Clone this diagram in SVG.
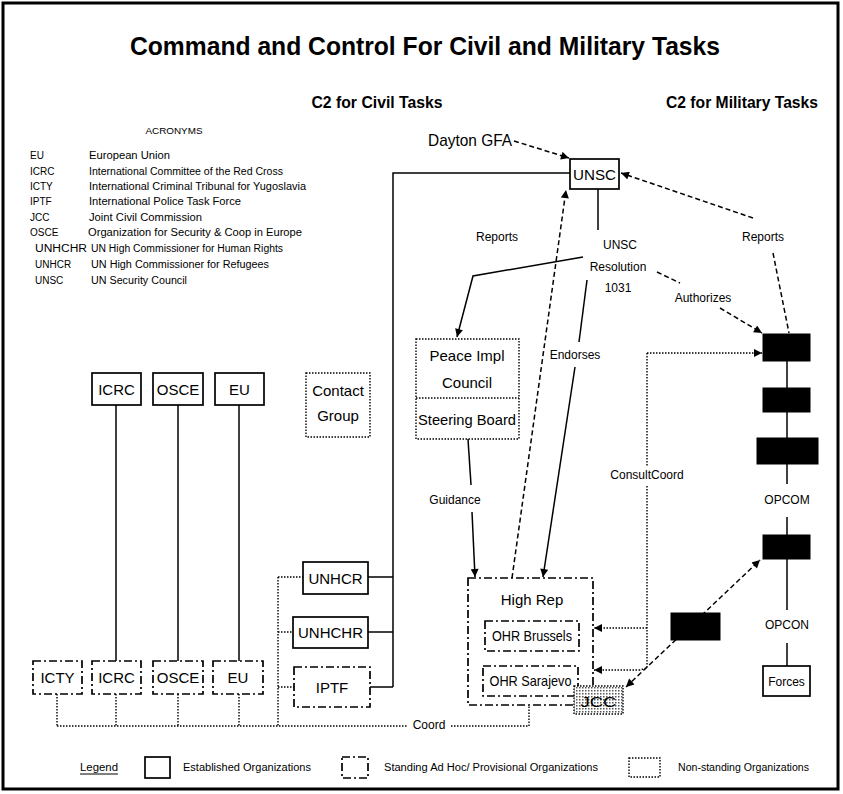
<svg xmlns="http://www.w3.org/2000/svg" width="843" height="794" viewBox="0 0 843 794">
<defs>
<style>
text{font-family:"Liberation Sans",Arial,sans-serif;fill:#000}
.t{font-size:15px;text-anchor:middle}
.s{font-size:12px;text-anchor:middle}
.a{font-size:10px}
.solid{fill:#fff;stroke:#000;stroke-width:1.7}
.dd{fill:#fff;stroke:#000;stroke-width:1.7;stroke-dasharray:8 3 2 3}
.dot{fill:#fff;stroke:#000;stroke-width:1.4;stroke-dasharray:1.5 1.5}
.blk{fill:#000;stroke:#000}
.ln{fill:none;stroke:#000;stroke-width:1.5}
.dash{fill:none;stroke:#000;stroke-width:1.5;stroke-dasharray:5 3}
.dl{fill:none;stroke:#000;stroke-width:1.4;stroke-dasharray:1.5 1.5}
</style>
<marker id="ah" viewBox="0 0 10 10" refX="10" refY="5" markerWidth="10" markerHeight="8" markerUnits="userSpaceOnUse" orient="auto-start-reverse">
<path d="M0,0 L10,5 L0,10 z" fill="#000"/>
</marker>
<pattern id="stip" width="3" height="3" patternUnits="userSpaceOnUse">
<rect width="3" height="3" fill="#fff"/>
<rect width="1.5" height="1.5" fill="#555"/>
</pattern>
</defs>
<rect x="0" y="0" width="843" height="794" fill="#fff"/>
<rect x="3" y="3" width="835" height="786" fill="none" stroke="#000" stroke-width="3"/>

<text x="425" y="55" font-size="25" font-weight="bold" text-anchor="middle" textLength="590" lengthAdjust="spacingAndGlyphs">Command and Control For Civil and Military Tasks</text>
<text x="377" y="108" font-size="17" font-weight="bold" text-anchor="middle" textLength="131" lengthAdjust="spacingAndGlyphs">C2 for Civil Tasks</text>
<text x="742" y="108" font-size="17" font-weight="bold" text-anchor="middle" textLength="152" lengthAdjust="spacingAndGlyphs">C2 for Military Tasks</text>

<g id="acronyms">
<text x="174" y="134" font-size="9" text-anchor="middle" textLength="57" lengthAdjust="spacingAndGlyphs">ACRONYMS</text>
<text class="a" x="30" y="159">EU</text><text class="a" x="89" y="159" textLength="81" lengthAdjust="spacingAndGlyphs">European Union</text>
<text class="a" x="30" y="175">ICRC</text><text class="a" x="89" y="175" textLength="194" lengthAdjust="spacingAndGlyphs">International Committee of the Red Cross</text>
<text class="a" x="30" y="190">ICTY</text><text class="a" x="89" y="190" textLength="217" lengthAdjust="spacingAndGlyphs">International Criminal Tribunal for Yugoslavia</text>
<text class="a" x="30" y="205">IPTF</text><text class="a" x="89" y="205" textLength="152" lengthAdjust="spacingAndGlyphs">International Police Task Force</text>
<text class="a" x="30" y="221">JCC</text><text class="a" x="89" y="221" textLength="113" lengthAdjust="spacingAndGlyphs">Joint Civil Commission</text>
<text class="a" x="30" y="236">OSCE</text><text class="a" x="88" y="236" textLength="214" lengthAdjust="spacingAndGlyphs">Organization for Security &amp; Coop in Europe</text>
<text class="a" x="35" y="252" textLength="52" lengthAdjust="spacingAndGlyphs">UNHCHR</text><text class="a" x="91" y="252" textLength="192" lengthAdjust="spacingAndGlyphs">UN High Commissioner for Human Rights</text>
<text class="a" x="35" y="268">UNHCR</text><text class="a" x="91" y="268" textLength="178" lengthAdjust="spacingAndGlyphs">UN High Commissioner for Refugees</text>
<text class="a" x="35" y="284">UNSC</text><text class="a" x="91" y="284" textLength="96" lengthAdjust="spacingAndGlyphs">UN Security Council</text>
</g>

<g id="connectors">
<polyline class="ln" points="570,173 393,173 393,687"/>
<line class="ln" x1="368" y1="577" x2="393" y2="577"/>
<line class="ln" x1="368" y1="632" x2="393" y2="632"/>
<line class="ln" x1="370" y1="687" x2="393" y2="687"/>
<line class="ln" x1="598" y1="189" x2="598" y2="230"/>
<line class="dash" x1="514" y1="141" x2="569" y2="158" marker-end="url(#ah)"/>
<polyline class="ln" points="583,257 473,276 457,337" marker-end="url(#ah)"/>
<line class="dash" x1="657" y1="272" x2="680" y2="283"/>
<line class="dash" x1="720" y1="308" x2="762" y2="333" marker-end="url(#ah)"/>
<line class="dash" x1="753" y1="218" x2="621" y2="173" marker-end="url(#ah)"/>
<line class="dash" x1="773" y1="253" x2="789" y2="333"/>
<line class="dash" x1="512" y1="578" x2="566" y2="190" marker-end="url(#ah)"/>
<line class="ln" x1="587" y1="280" x2="579" y2="342"/>
<line class="ln" x1="575" y1="367" x2="543" y2="577" marker-end="url(#ah)"/>
<line class="ln" x1="468" y1="439" x2="471" y2="485"/>
<line class="ln" x1="472" y1="512" x2="475" y2="577" marker-end="url(#ah)"/>
<line class="dl" x1="647" y1="353" x2="762" y2="353" marker-end="url(#ah)"/>
<line class="dl" x1="647" y1="353" x2="647" y2="466"/>
<polyline class="dl" points="647,486 647,668 640,670"/>
<line class="dl" x1="647" y1="628" x2="594" y2="628" marker-end="url(#ah)"/>
<line class="dl" x1="640" y1="670" x2="594" y2="670" marker-end="url(#ah)"/>
<line class="dash" x1="626" y1="687" x2="760" y2="560" stroke-dasharray="4 3" marker-start="url(#ah)" marker-end="url(#ah)"/>
<line class="ln" x1="787" y1="361" x2="787" y2="484"/>
<line class="ln" x1="787" y1="517" x2="787" y2="535"/>
<line class="ln" x1="787" y1="559" x2="787" y2="610"/>
<line class="ln" x1="787" y1="643" x2="787" y2="666"/>
<line class="ln" x1="116" y1="405" x2="116" y2="661"/>
<line class="ln" x1="178" y1="405" x2="178" y2="661"/>
<line class="ln" x1="239" y1="405" x2="239" y2="661"/>
<line class="dl" x1="57" y1="694" x2="57" y2="726"/>
<line class="dl" x1="116" y1="694" x2="116" y2="726"/>
<line class="dl" x1="178" y1="694" x2="178" y2="726"/>
<line class="dl" x1="239" y1="694" x2="239" y2="726"/>
<line class="dl" x1="57" y1="726" x2="408" y2="726"/>
<polyline class="dl" points="451,726 529,726 529,705"/>
<line class="dl" x1="278" y1="577" x2="278" y2="726"/>
<line class="dl" x1="278" y1="577" x2="303" y2="577"/>
<line class="dl" x1="278" y1="632" x2="293" y2="632"/>
<line class="dl" x1="278" y1="687" x2="294" y2="687"/>
</g>

<g id="labels">
<text x="470" y="146" font-size="17" text-anchor="middle" textLength="84" lengthAdjust="spacingAndGlyphs">Dayton GFA</text>
<text class="s" x="497" y="241" font-size="11">Reports</text>
<text class="s" x="620" y="249">UNSC</text>
<text class="s" x="618" y="271">Resolution</text>
<text class="s" x="618" y="292">1031</text>
<text class="s" x="703" y="302">Authorizes</text>
<text class="s" x="763" y="241" font-size="11">Reports</text>
<text class="s" x="575" y="359">Endorses</text>
<text class="s" x="455" y="504" font-size="11">Guidance</text>
<text class="s" x="647" y="479" font-size="11">ConsultCoord</text>
<text class="s" x="429" y="729" font-size="14">Coord</text>
<text class="s" x="787" y="504">OPCOM</text>
<text class="s" x="787" y="629">OPCON</text>
</g>

<g id="UNSC"><rect class="solid" x="570" y="159" width="49" height="30"/><text class="t" x="594.5" y="180" font-size="17" textLength="43" lengthAdjust="spacingAndGlyphs">UNSC</text></g>
<g id="PIC"><rect class="dot" x="416" y="339" width="103" height="100"/><line class="dl" x1="416" y1="398" x2="519" y2="398"/>
<text class="t" x="467" y="361">Peace Impl</text><text class="t" x="467" y="388">Council</text><text class="t" x="467" y="425" font-size="14" textLength="98" lengthAdjust="spacingAndGlyphs">Steering Board</text></g>
<g id="ContactGroup"><rect class="dot" x="306" y="373" width="64" height="64"/><text class="t" x="338" y="396">Contact</text><text class="t" x="338" y="421">Group</text></g>
<g id="ICRC1"><rect class="solid" x="92" y="373" width="49" height="32"/><text class="t" x="116.5" y="395">ICRC</text></g>
<g id="OSCE1"><rect class="solid" x="153" y="373" width="50" height="32"/><text class="t" x="178" y="395">OSCE</text></g>
<g id="EU1"><rect class="solid" x="215" y="373" width="49" height="32"/><text class="t" x="239.5" y="395">EU</text></g>
<g id="UNHCR"><rect class="solid" x="303" y="562" width="65" height="32"/><text class="t" x="335.5" y="584">UNHCR</text></g>
<g id="UNHCHR"><rect class="solid" x="293" y="617" width="75" height="31"/><text class="t" x="330.5" y="638">UNHCHR</text></g>
<g id="IPTF"><rect class="dd" x="294" y="667" width="76" height="40"/><text class="t" x="332" y="693">IPTF</text></g>
<g id="ICTY"><rect class="dd" x="33" y="661" width="49" height="33"/><text class="t" x="57.5" y="683">ICTY</text></g>
<g id="ICRC2"><rect class="dd" x="92" y="661" width="49" height="33"/><text class="t" x="116.5" y="683">ICRC</text></g>
<g id="OSCE2"><rect class="dd" x="153" y="661" width="50" height="33"/><text class="t" x="178" y="683">OSCE</text></g>
<g id="EU2"><rect class="dd" x="213" y="661" width="50" height="33"/><text class="t" x="238" y="683">EU</text></g>
<g id="HighRep"><rect class="dd" x="468" y="578" width="125" height="127"/><text class="t" x="532" y="605" font-size="16">High Rep</text></g>
<g id="OHRBrussels"><rect class="dd" x="485" y="621" width="94" height="30"/><text class="t" x="532" y="641" font-size="13" textLength="80" lengthAdjust="spacingAndGlyphs">OHR Brussels</text></g>
<g id="OHRSarajevo"><rect class="dd" x="483" y="666" width="95" height="30"/><text class="t" x="530.5" y="686" font-size="13" textLength="82" lengthAdjust="spacingAndGlyphs">OHR Sarajevo</text></g>
<g id="JCC"><rect x="574" y="686" width="49" height="28" fill="url(#stip)" stroke="#000" stroke-width="1.4" stroke-dasharray="1.5 1.5"/><text class="t" x="598.5" y="707" font-size="17" textLength="36" lengthAdjust="spacingAndGlyphs">JCC</text></g>
<g id="Mil1"><rect class="blk" x="763" y="334" width="47" height="27"/></g>
<g id="Mil2"><rect class="blk" x="763" y="388" width="47" height="24"/></g>
<g id="Mil3"><rect class="blk" x="757" y="438" width="61" height="26"/></g>
<g id="Mil4"><rect class="blk" x="763" y="535" width="47" height="24"/></g>
<g id="Mil5"><rect class="blk" x="671" y="613" width="49" height="27"/></g>
<g id="Forces"><rect class="solid" x="763" y="666" width="47" height="30"/><text class="s" x="786.5" y="686">Forces</text></g>

<g id="legend">
<text class="a" x="80" y="771" textLength="38" lengthAdjust="spacingAndGlyphs">Legend</text>
<line x1="80" y1="774" x2="118" y2="774" stroke="#000" stroke-width="1"/>
<rect class="solid" x="145" y="757" width="25" height="21"/>
<text class="a" x="183" y="771" textLength="128" lengthAdjust="spacingAndGlyphs">Established Organizations</text>
<rect class="dd" x="342" y="757" width="26" height="21"/>
<text class="a" x="384" y="771" textLength="214" lengthAdjust="spacingAndGlyphs">Standing Ad Hoc/ Provisional Organizations</text>
<rect class="dot" x="629" y="758" width="31" height="19"/>
<text class="a" x="678" y="771" textLength="131" lengthAdjust="spacingAndGlyphs">Non-standing Organizations</text>
</g>
</svg>
